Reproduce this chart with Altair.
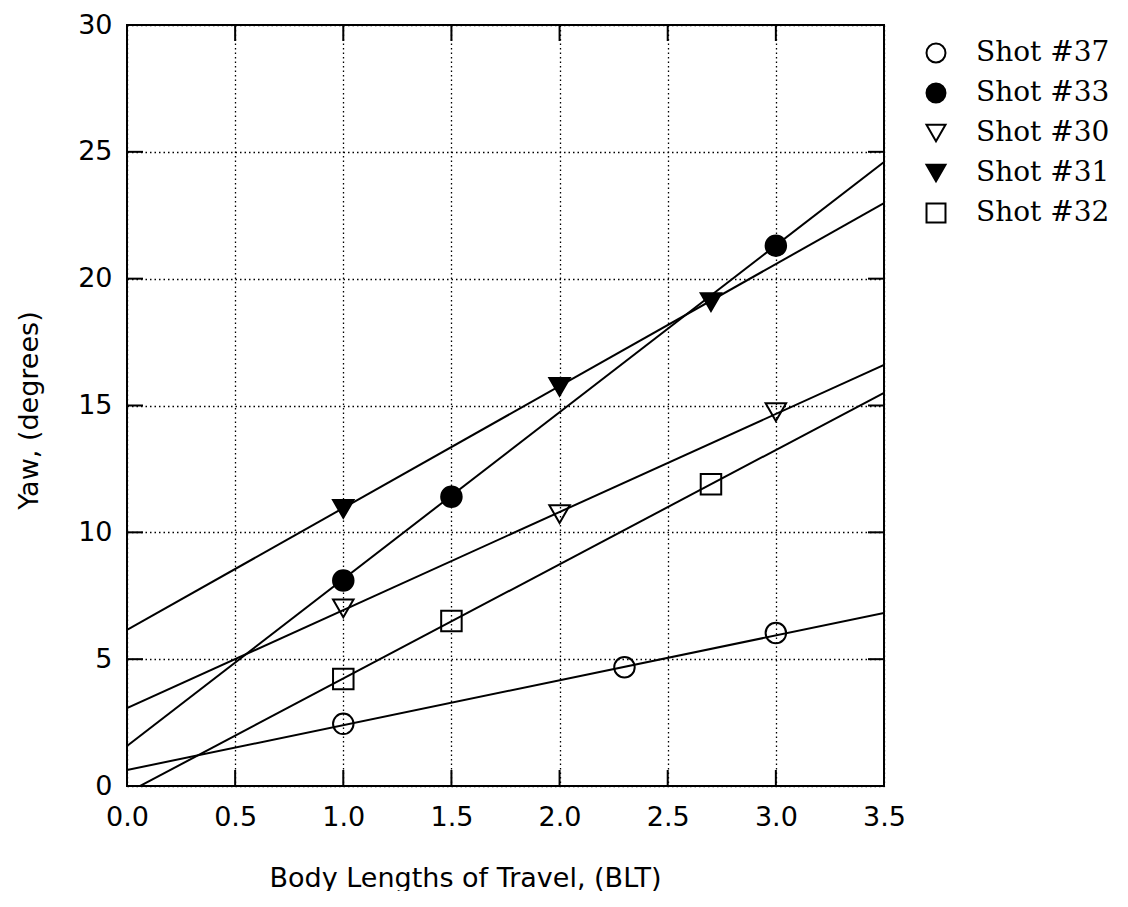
import altair as alt
import pandas as pd

# ---- data ----
shots = ["Shot #37", "Shot #33", "Shot #30", "Shot #31", "Shot #32"]

pts_x = {
    "Shot #37": [1.0, 2.3, 3.0],
    "Shot #33": [1.0, 1.5, 3.0],
    "Shot #30": [1.0, 2.0, 3.0],
    "Shot #31": [1.0, 2.0, 2.7],
    "Shot #32": [1.0, 1.5, 2.7],
}
pts_y = {
    "Shot #37": [2.45, 4.68, 6.03],
    "Shot #33": [8.1, 11.4, 21.3],
    "Shot #30": [7.0, 10.72, 14.74],
    "Shot #31": [10.92, 15.73, 19.08],
    "Shot #32": [4.22, 6.5, 11.9],
}

# fitted straight lines, drawn across the full x range
fit_x = [0.0, 3.5]
fit_y = {
    "Shot #37": [0.63, 6.82],
    "Shot #33": [1.58, 24.6],
    "Shot #30": [3.07, 16.6],
    "Shot #31": [6.15, 22.98],
    "Shot #32": [-0.27, 15.5],
}

x_ticks = [0.0, 0.5, 1.0, 1.5, 2.0, 2.5, 3.0, 3.5]
y_ticks = [0, 5, 10, 15, 20, 25, 30]
x_inner = [0.5, 1.0, 1.5, 2.0, 2.5, 3.0]
y_inner = [5, 10, 15, 20, 25]

shapes = ["circle", "circle", "triangle-down", "triangle-down", "square"]
fills = ["transparent", "black", "transparent", "black", "transparent"]
strokes = ["black", "black", "black", "black", "black"]

W, H = 757, 761

pts = pd.DataFrame(
    [{"shot": s, "x": x, "y": y} for s in shots for x, y in zip(pts_x[s], pts_y[s])]
)
fits = pd.DataFrame(
    [{"shot": s, "x": x, "y": y} for s in shots for x, y in zip(fit_x, fit_y[s])]
)
xt = pd.DataFrame({"v": x_inner})
yt = pd.DataFrame({"v": y_inner})

xscale = alt.Scale(domain=[0, 3.5], nice=False, zero=False)
yscale = alt.Scale(domain=[0, 30], nice=False, zero=False)

xaxis = alt.Axis(
    values=x_ticks, format=".1f", title="Body Lengths of Travel, (BLT)",
    grid=True, ticks=False, tickSize=0, domain=False, labelFlush=False, labelOverlap=False,
    labelFont="DejaVu Sans", labelFontSize=27, labelColor="black", labelPadding=18,
    titleFont="DejaVu Sans", titleFontSize=27, titleFontWeight="normal", titleColor="black",
    titleX=338, titleY=79, titleBaseline="top",
)
yaxis = alt.Axis(
    values=y_ticks, format="d", title="Yaw, (degrees)",
    grid=True, ticks=False, tickSize=0, domain=False, labelFlush=False, labelOverlap=False,
    labelFont="DejaVu Sans", labelFontSize=27, labelColor="black", labelPadding=15,
    titleFont="DejaVu Sans", titleFontSize=27, titleFontWeight="normal", titleColor="black",
    titleX=-90, titleY=385, titleBaseline="alphabetic",
)

legend = alt.Legend(
    orient="none", legendX=795, legendY=14, title=None, padding=0,
    labelFont="DejaVu Serif", labelFontSize=28, labelColor="black",
    symbolSize=360, symbolStrokeWidth=2, symbolStrokeColor="black",
    rowPadding=12, labelOffset=26,
)

lines = alt.Chart(fits).mark_line(color="black", strokeWidth=2, clip=True).encode(
    x=alt.X("x:Q", scale=xscale, axis=xaxis),
    y=alt.Y("y:Q", scale=yscale, axis=yaxis),
    detail="shot:N",
)

points = alt.Chart(pts).mark_point(
    strokeWidth=2, size=420, opacity=1, fillOpacity=1, strokeOpacity=1
).encode(
    x=alt.X("x:Q", scale=xscale),
    y=alt.Y("y:Q", scale=yscale),
    shape=alt.Shape("shot:N", scale=alt.Scale(domain=shots, range=shapes), legend=legend),
    fill=alt.Fill("shot:N", scale=alt.Scale(domain=shots, range=fills), legend=legend),
    stroke=alt.Stroke("shot:N", scale=alt.Scale(domain=shots, range=strokes), legend=legend),
)

tick_b = alt.Chart(xt).mark_rule(color="black", strokeWidth=2).encode(
    x=alt.X("v:Q", scale=xscale), y=alt.value(H), y2=alt.value(H - 16)
)
tick_t = alt.Chart(xt).mark_rule(color="black", strokeWidth=2).encode(
    x=alt.X("v:Q", scale=xscale), y=alt.value(0), y2=alt.value(16)
)
tick_l = alt.Chart(yt).mark_rule(color="black", strokeWidth=2).encode(
    y=alt.Y("v:Q", scale=yscale), x=alt.value(0), x2=alt.value(16)
)
tick_r = alt.Chart(yt).mark_rule(color="black", strokeWidth=2).encode(
    y=alt.Y("v:Q", scale=yscale), x=alt.value(W), x2=alt.value(W - 16)
)

chart = alt.layer(lines, tick_b, tick_t, tick_l, tick_r, points).properties(
    width=W, height=H,
    autosize=alt.AutoSizeParams(type="none"),
    padding={"left": 119, "top": 17, "right": 230, "bottom": 105},
    background="white",
).configure_view(
    stroke="black", strokeWidth=2
).configure_axis(
    gridColor="black", gridOpacity=1, gridDash=[1.5, 3], gridWidth=1.3
)

chart.save("out.html", embed_options={"renderer": "svg", "actions": False})
